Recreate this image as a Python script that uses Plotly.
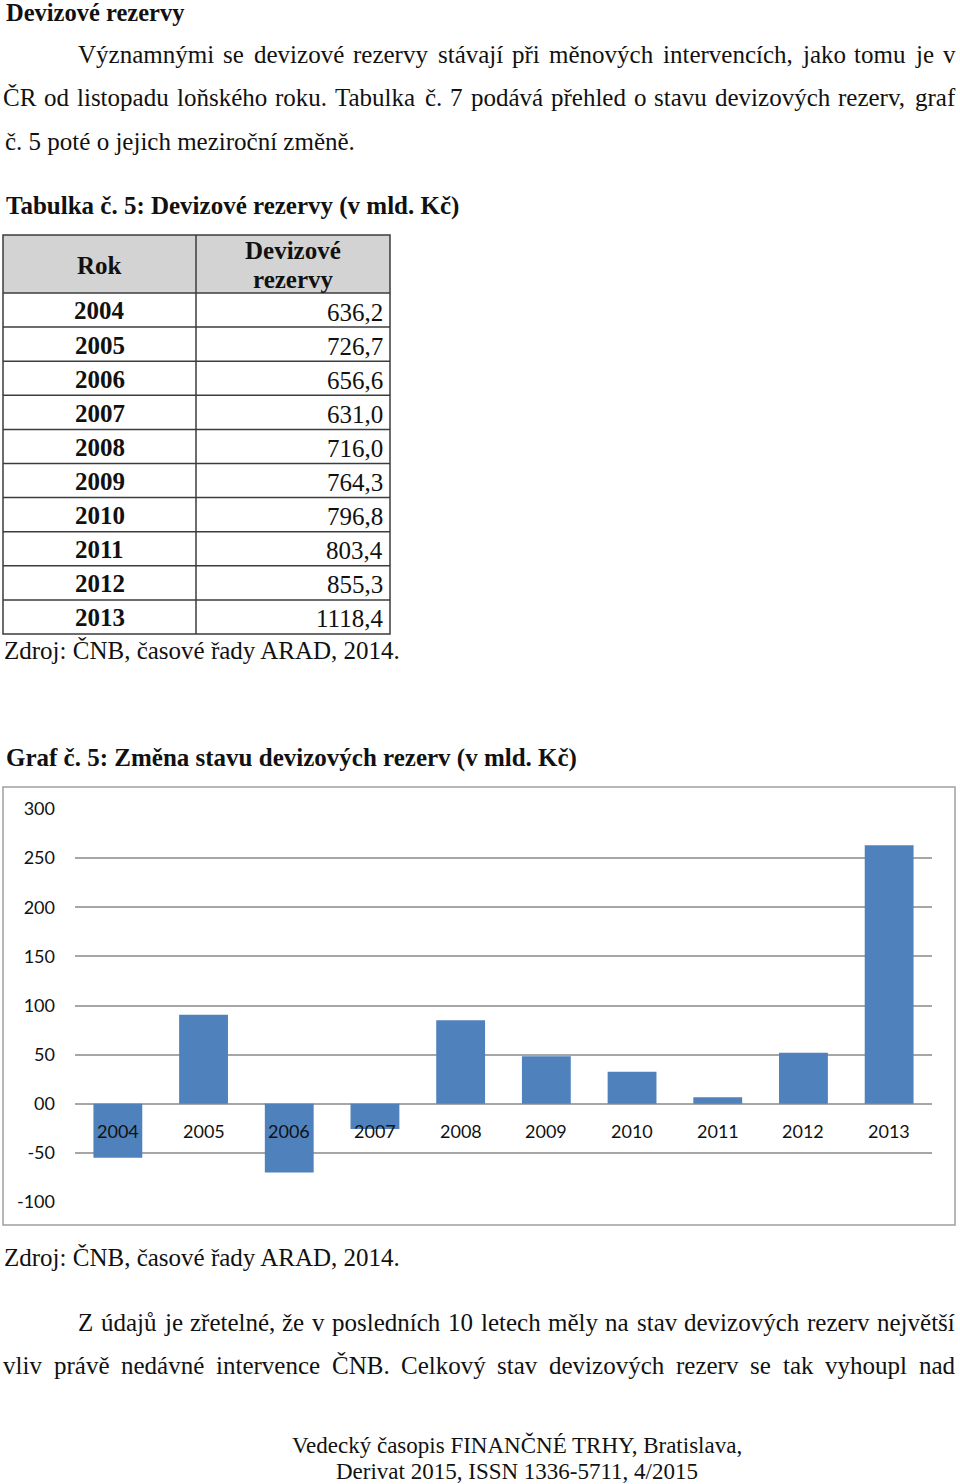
import unicodedata

import plotly.graph_objects as go

W, H = 960, 1484

# table data (v mld. Kč)
years = ["2004", "2005", "2006", "2007", "2008", "2009", "2010", "2011", "2012", "2013"]
reserves = ["636,2", "726,7", "656,6", "631,0", "716,0", "764,3", "796,8", "803,4", "855,3", "1118,4"]

# year-on-year change
changes = [-55.0, 90.5, -70.1, -25.6, 85.0, 48.3, 32.5, 6.6, 51.9, 263.1]

y_ticks = [-100, -50, 0, 50, 100, 150, 200, 250, 300]
y_tick_text = ["-100", "-50", "00", "50", "100", "150", "200", "250", "300"]

SERIF = "Liberation Serif, Times New Roman, serif"
SANS = "Lato, Carlito, Calibri, sans-serif"
BAR = "#4f81bd"
GRID = "#a6a6a6"
INK = "#111111"
TABLE_LINE = "#3c3c3c"

# Times Roman advance widths (1/1000 em), used only to justify the body text
TIMES = dict(zip("abcdefghijklmnopqrstuvwxyz",
                 [444, 500, 444, 500, 444, 333, 500, 500, 278, 278, 500, 278, 778,
                  500, 500, 500, 500, 333, 389, 278, 500, 500, 722, 500, 500, 444]))
TIMES.update(zip("ABCDEFGHIJKLMNOPQRSTUVWXYZ",
                 [722, 667, 667, 722, 611, 556, 722, 722, 333, 389, 722, 611, 889,
                  722, 722, 556, 722, 667, 556, 611, 722, 722, 944, 722, 722, 611]))
TIMES.update({c: 500 for c in "0123456789"})
TIMES.update({".": 250, ",": 250, ":": 278, "-": 333, "/": 278, "(": 333, ")": 333})


def px(x):
    return x / W


def py(y):
    return 1 - y / H


def text(fig, s, x, y, size, anchor="left", family=SERIF):
    fig.add_annotation(
        x=px(x), y=py(y), xref="paper", yref="paper", text=s,
        showarrow=False, xanchor=anchor, yanchor="middle",
        font=dict(family=family, size=size, color=INK),
    )


def word_width(word, size):
    total = 0
    for ch in word:
        base = unicodedata.normalize("NFD", ch)[0]
        total += TIMES.get(base, 500)
    return total * size / 1000


def justified(fig, s, x0, x1, y, size):
    words = s.split(" ")
    widths = [word_width(w, size) for w in words]
    gap = (x1 - x0 - sum(widths)) / (len(words) - 1)
    x = x0
    for w, wd in zip(words, widths):
        text(fig, w, x, y, size)
        x += wd + gap


def line(fig, x0, y0, x1, y1, color=TABLE_LINE, width=1.5):
    fig.add_shape(
        type="line", xref="paper", yref="paper",
        x0=px(x0), y0=py(y0), x1=px(x1), y1=py(y1),
        line=dict(color=color, width=width),
    )


fig = go.Figure()

fig.add_trace(go.Bar(
    x=years, y=changes,
    marker=dict(color=BAR, line=dict(width=0)),
    hoverinfo="x+y",
))

# category labels sit next to the zero line, like in Excel
for i, yr in enumerate(years):
    fig.add_annotation(
        x=i, y=0, xref="x", yref="y", text=yr, showarrow=False,
        yshift=-27, font=dict(family=SANS, size=18, color=INK),
    )

# --- table 5 ---
T_LEFT, T_MID, T_RIGHT = 3, 196, 390
T_TOP, HEAD_BOTTOM, ROW_H = 235, 293, 34.1
t_bottom = HEAD_BOTTOM + ROW_H * len(years)

fig.add_shape(
    type="rect", xref="paper", yref="paper",
    x0=px(T_LEFT), x1=px(T_RIGHT), y0=py(HEAD_BOTTOM), y1=py(T_TOP),
    line=dict(width=0), fillcolor="#d3d3d3", layer="below",
)
fig.add_shape(
    type="rect", xref="paper", yref="paper",
    x0=px(T_LEFT), x1=px(T_RIGHT), y0=py(t_bottom), y1=py(T_TOP),
    line=dict(color=TABLE_LINE, width=1.5), fillcolor="rgba(0,0,0,0)",
)
line(fig, T_MID, T_TOP, T_MID, t_bottom)
line(fig, T_LEFT, HEAD_BOTTOM, T_RIGHT, HEAD_BOTTOM)

text(fig, "<b>Rok</b>", (T_LEFT + T_MID) / 2, 265, 25, "center")
text(fig, "<b>Devizové</b>", (T_MID + T_RIGHT) / 2, 250, 25, "center")
text(fig, "<b>rezervy</b>", (T_MID + T_RIGHT) / 2, 279, 25, "center")

for i, (yr, val) in enumerate(zip(years, reserves)):
    top = HEAD_BOTTOM + ROW_H * i
    if i > 0:
        line(fig, T_LEFT, top, T_RIGHT, top)
    text(fig, f"<b>{yr}</b>", (T_LEFT + T_MID) / 2, top + 18, 25, "center")
    text(fig, val, T_RIGHT - 5, top + 19, 25, "right")

# --- page text ---
texts = [
    ("<b>Devizové rezervy</b>", 4, 12, 24.5, "left"),
    ("č. 5 poté o jejich meziroční změně.", 3, 141, 25, "left"),
    ("<b>Tabulka č. 5: Devizové rezervy (v mld. Kč)</b>", 4, 206, 25, "left"),
    ("Zdroj: ČNB, časové řady ARAD, 2014.", 2, 651, 25, "left"),
    ("<b>Graf č. 5: Změna stavu devizových rezerv (v mld. Kč)</b>", 4, 758, 25, "left"),
    ("Zdroj: ČNB, časové řady ARAD, 2014.", 2, 1257, 25, "left"),
    ("Vedecký časopis FINANČNÉ TRHY, Bratislava,", 517, 1445, 23, "center"),
    ("Derivat 2015, ISSN 1336-5711, 4/2015", 517, 1471, 23, "center"),
]
for s, x, y, size, anchor in texts:
    text(fig, s, x, y, size, anchor)

paragraph = [
    ("Významnými se devizové rezervy stávají při měnových intervencích, jako tomu je v", 76, 55),
    ("ČR od listopadu loňského roku. Tabulka č. 7 podává přehled o stavu devizových rezerv, graf", 1, 98),
    ("Z údajů je zřetelné, že v posledních 10 letech měly na stav devizových rezerv největší", 76, 1322),
    ("vliv právě nedávné intervence ČNB. Celkový stav devizových rezerv se tak vyhoupl nad", 1, 1365),
]
for s, x0, y in paragraph:
    justified(fig, s, x0, 953, y, 25)

# chart frame
fig.add_shape(
    type="rect", xref="paper", yref="paper",
    x0=px(3), x1=px(955), y0=py(1225), y1=py(787),
    line=dict(color="#a0a0a0", width=1.5), fillcolor="rgba(0,0,0,0)",
)

fig.update_layout(
    width=W, height=H,
    margin=dict(l=0, r=0, t=0, b=0, pad=0, autoexpand=False),
    paper_bgcolor="white",
    plot_bgcolor="white",
    showlegend=False,
    bargap=0.43,
    xaxis=dict(
        type="category",
        range=[-0.5, len(years) - 0.5],
        domain=[px(75), px(932)],
        showticklabels=False, showgrid=False, zeroline=False,
        showline=False, ticks="", fixedrange=True, automargin=False,
    ),
    yaxis=dict(
        domain=[py(1202), py(809)],
        range=[-100, 300],
        tickvals=y_ticks, ticktext=y_tick_text,
        showgrid=True, gridcolor=GRID, gridwidth=1.5,
        zeroline=False, showline=False, ticks="",
        ticklabelstandoff=19,
        tickfont=dict(family=SANS, size=18, color=INK),
        fixedrange=True, automargin=False,
    ),
)

page_fix = """
document.documentElement.style.margin = '0';
document.documentElement.style.overflow = 'hidden';
document.body.style.margin = '0';
document.body.style.padding = '0';
document.body.style.overflow = 'hidden';
var gd = document.querySelector('.plotly-graph-div');
gd.style.position = 'absolute';
gd.style.left = '0';
gd.style.top = '0';
"""

fig.write_html(
    "out.html",
    config={"displayModeBar": False},
    post_script=page_fix,
)
